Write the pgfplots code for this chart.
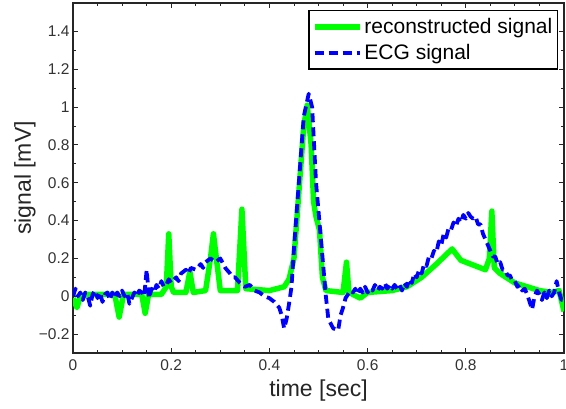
\documentclass[border=0pt]{standalone}
\usepackage{fontspec}
\setmainfont{Liberation Sans}
\usepackage{pgfplots}
\pgfplotsset{compat=1.18}
\begin{document}
\begin{tikzpicture}
\begin{axis}[
  width=491pt, height=350pt, scale only axis,
  xmin=0, xmax=1, ymin=-0.3, ymax=1.55,
  xtick={0,0.2,0.4,0.6,0.8,1}, xticklabels={0,0.2,0.4,0.6,0.8,1},
  ytick={-0.2,0,0.2,0.4,0.6,0.8,1,1.2,1.4},
  yticklabels={−0.2,0,0.2,0.4,0.6,0.8,1,1.2,1.4},
  minor x tick num=3, minor y tick num=1,
  tick align=inside, major tick length=5pt, minor tick length=3pt,
  tick style={line width=0.9pt, color=black!85},
  axis line style={line width=1.3pt, color=black!85},
  ticklabel style={font=\fontsize{15.5}{18}\selectfont, color=black!80},
  xticklabel style={yshift=-3pt},
  xlabel={time [sec]}, ylabel={signal [mV]},
  label style={font=\fontsize{23}{26}\selectfont, color=black!85},
  xlabel style={at={(axis description cs:0.5,-0.106)}, anchor=center},
  ylabel style={at={(axis description cs:-0.098,0.5)}, anchor=center},
  legend style={at={(axis description cs:0.9878,0.98)}, anchor=north east,
    draw=black, line width=1.3pt, font=\fontsize{21}{24}\selectfont,
    inner xsep=3pt, inner ysep=6pt, row sep=5pt},
  legend cell align=left,
  legend image code/.code={\draw[#1] plot coordinates {(0pt,0pt)(45pt,0pt)};},
]
\addplot[color={rgb,1:red,0;green,1;blue,0}, line width=5.5pt, line join=round] coordinates {
(0,-0.01) (0.008,-0.06) (0.015,0.0) (0.03,0.01) (0.06,0.01) (0.085,0.01)
(0.094,-0.11) (0.103,0.01) (0.14,0.01) (0.147,-0.09) (0.154,0.01) (0.18,0.01)
(0.19,0.05) (0.195,0.33) (0.2,0.05) (0.205,0.02) (0.23,0.02) (0.238,0.13)
(0.245,0.02) (0.27,0.03) (0.28,0.2) (0.286,0.33) (0.292,0.2) (0.3,0.03)
(0.335,0.03) (0.344,0.46) (0.352,0.04) (0.4,0.03) (0.43,0.05) (0.44,0.09)
(0.45,0.2) (0.46,0.55) (0.47,0.9) (0.477,1.01) (0.485,0.8) (0.49,0.5)
(0.495,0.42) (0.502,0.35) (0.508,0.1) (0.515,0.03) (0.55,0.02) (0.557,0.18)
(0.562,0.02) (0.585,-0.01) (0.6,0.02) (0.65,0.03) (0.68,0.05) (0.71,0.1)
(0.74,0.17) (0.772,0.25) (0.79,0.19) (0.82,0.16) (0.84,0.14) (0.848,0.2)
(0.853,0.45) (0.858,0.15) (0.87,0.12) (0.9,0.07) (0.95,0.03) (0.975,0.02)
(0.99,0.03) (1.0,-0.08)
};
\addlegendentry{reconstructed signal}
\addplot[color={rgb,1:red,0;green,0;blue,1}, line width=3.8pt, line join=round, dash pattern=on 9pt off 5pt] coordinates {
(0,0.0) (0.005,0.04) (0.01,0.0) (0.015,0.02) (0.02,-0.02) (0.025,0.02)
(0.03,0.0) (0.035,-0.05) (0.04,0.01) (0.045,0.03) (0.05,-0.01) (0.055,0.02)
(0.06,-0.03) (0.065,0.01) (0.07,0.02) (0.075,-0.02) (0.08,0.02) (0.085,-0.01)
(0.09,0.02) (0.095,0.0) (0.1,0.03) (0.105,0.0) (0.11,0.02) (0.115,-0.04)
(0.12,-0.01) (0.125,0.02) (0.13,0.0) (0.135,0.03) (0.14,0.02) (0.145,0.0)
(0.15,0.14) (0.155,-0.01) (0.16,0.04) (0.165,0.02) (0.17,0.06) (0.175,0.04)
(0.18,0.08) (0.185,0.05) (0.19,0.06) (0.195,0.09) (0.2,0.07) (0.21,0.1)
(0.215,0.08) (0.22,0.12) (0.23,0.14) (0.235,0.12) (0.24,0.15) (0.25,0.14)
(0.26,0.17) (0.265,0.15) (0.27,0.18) (0.28,0.2) (0.29,0.18) (0.3,0.2)
(0.31,0.15) (0.32,0.12) (0.325,0.1) (0.33,0.1) (0.34,0.07) (0.35,0.05)
(0.36,0.06) (0.37,0.03) (0.38,0.02) (0.39,0.0) (0.4,-0.01) (0.41,-0.03)
(0.42,-0.06) (0.425,-0.1) (0.43,-0.17) (0.435,-0.12) (0.44,-0.04)
(0.445,0.05) (0.45,0.25) (0.46,0.6) (0.47,0.95) (0.48,1.07)
(0.487,1.0) (0.495,0.6) (0.505,0.3) (0.51,0.15) (0.515,0.0) (0.52,-0.12)
(0.53,-0.17) (0.54,-0.18) (0.545,-0.1) (0.55,-0.06) (0.555,-0.01) (0.56,0.01)
(0.565,0.03) (0.57,0.02) (0.575,0.04) (0.58,0.01) (0.585,0.04) (0.59,0.02)
(0.595,0.05) (0.6,0.02) (0.605,0.04) (0.61,0.03) (0.615,0.06) (0.62,0.03)
(0.625,0.05) (0.63,0.04) (0.635,0.07) (0.64,0.04) (0.645,0.06) (0.65,0.04)
(0.655,0.06) (0.66,0.04) (0.665,0.06) (0.67,0.03) (0.675,0.07) (0.68,0.05)
(0.685,0.09) (0.69,0.07) (0.695,0.12) (0.7,0.1) (0.705,0.14) (0.71,0.12)
(0.715,0.17) (0.72,0.16) (0.725,0.21) (0.73,0.2) (0.735,0.24) (0.74,0.23)
(0.745,0.29) (0.75,0.27) (0.755,0.33) (0.76,0.31) (0.765,0.36) (0.77,0.35)
(0.775,0.39) (0.78,0.37) (0.785,0.41) (0.79,0.39) (0.795,0.43) (0.8,0.41)
(0.805,0.44) (0.81,0.42) (0.815,0.41) (0.82,0.42) (0.825,0.38) (0.83,0.38)
(0.835,0.33) (0.84,0.3) (0.845,0.27) (0.85,0.24) (0.855,0.21) (0.86,0.21)
(0.865,0.17) (0.87,0.18) (0.875,0.14) (0.88,0.14) (0.885,0.11) (0.89,0.11)
(0.895,0.08) (0.9,0.08) (0.905,0.05) (0.91,0.06) (0.915,0.03) (0.92,0.04)
(0.925,0.01) (0.93,-0.03) (0.935,-0.07) (0.94,0.0) (0.945,0.03) (0.95,0.01)
(0.955,-0.02) (0.96,0.02) (0.965,-0.01) (0.97,0.03) (0.975,0.0) (0.98,0.02)
(0.985,0.08) (0.99,0.02) (0.995,-0.02) (1.0,0.0)
};
\addlegendentry{ECG signal}
\end{axis}
\pgfresetboundingbox
\path (current axis.south west) ++(-73pt,-55pt) coordinate (bbsw);
\path (current axis.north east) ++(2pt,3pt) coordinate (bbne);
\path[use as bounding box] (bbsw) rectangle (bbne);
\end{tikzpicture}
\end{document}
